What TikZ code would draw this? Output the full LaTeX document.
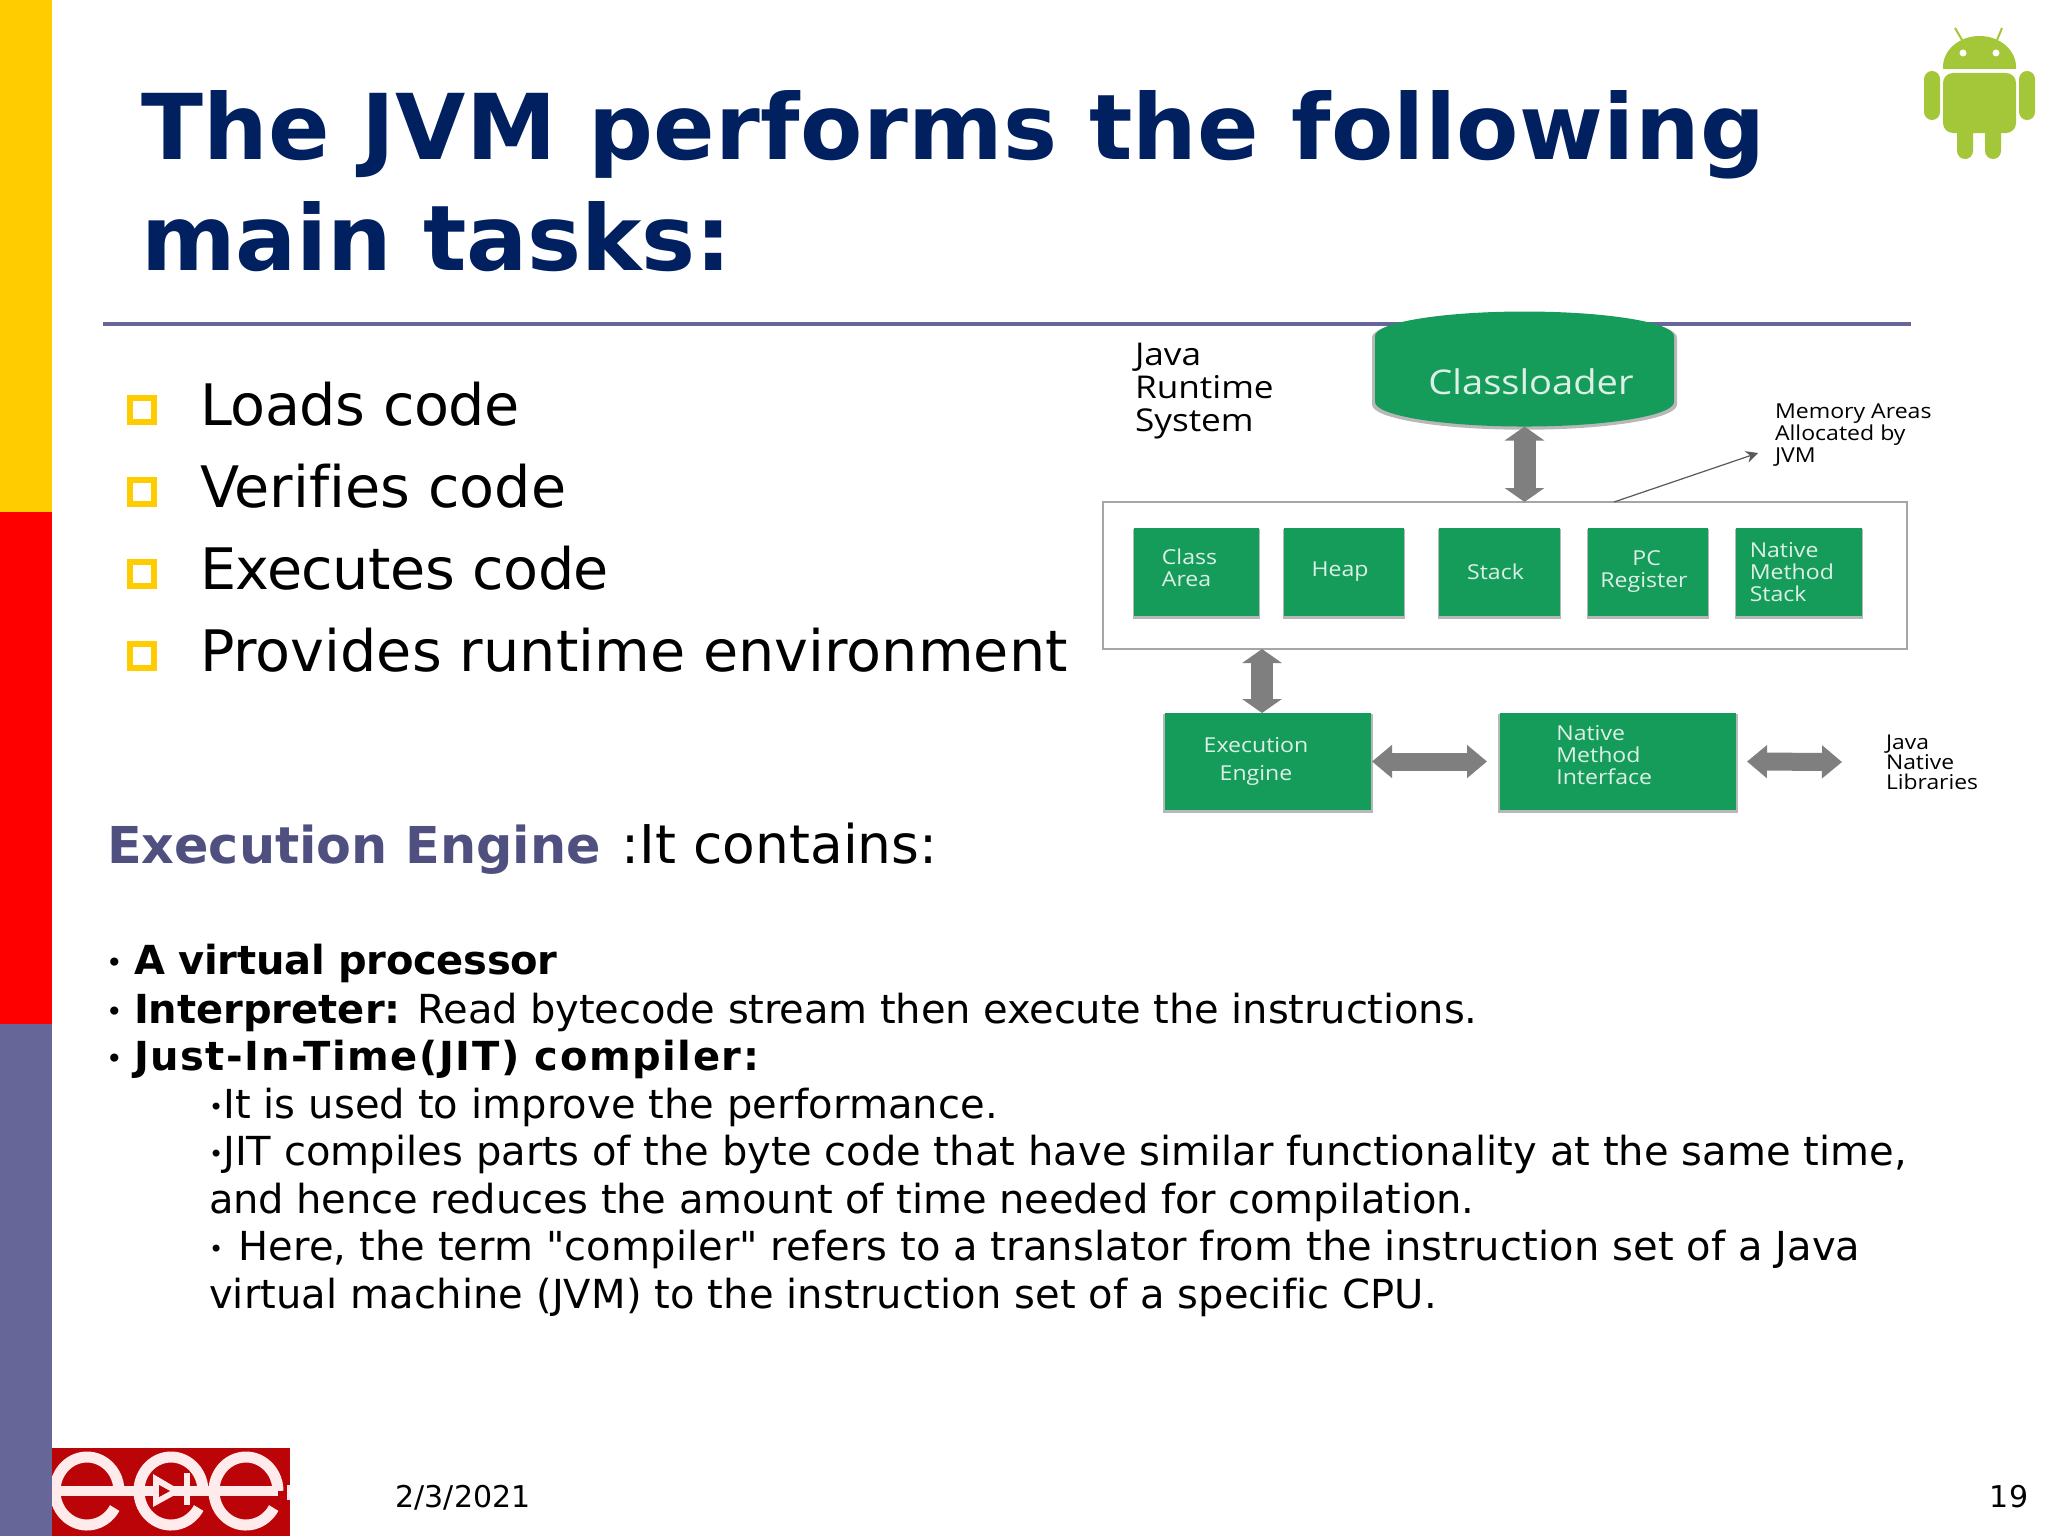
\documentclass[tikz,border=0pt]{standalone}
\usepackage{fontspec}
\setmainfont{DejaVu Sans}[Ligatures={ResetAll,NoCommon}]
\newfontfamily\quotefont{DejaVu Sans}
\newfontfamily\diagfont[FakeStretch=1.12]{Open Sans}
\usepackage{xcolor}
\usetikzlibrary{
    arrows.meta,
    shapes.geometric,
    positioning,
    shadows,
    calc
}
\definecolor{navytitle}{HTML}{002060}
\definecolor{slateblue}{HTML}{666699}
\definecolor{headblue}{HTML}{4F4F80}
\definecolor{baryellow}{HTML}{FFCC00}
\definecolor{jvmgreen}{HTML}{169C5A}
\definecolor{arrowgray}{HTML}{7F7F7F}
\definecolor{droidgreen}{HTML}{A4C639}
\definecolor{logored}{HTML}{BB0408}
\newcommand{\smalldot}{\raisebox{1.5pt}{\fontsize{12}{12}\selectfont •}}
\newcommand{\listdot}{\raisebox{1pt}{\fontsize{14}{14}\selectfont •}}
\newcommand{\trk}[1]{\addfontfeature{LetterSpace=#1}}
\newcommand{\strq}{{\quotefont"}}
\tikzset{
    slidetext/.style={anchor=base west, inner sep=0pt, outer sep=0pt},
    titletext/.style={slidetext, text=navytitle, font=\bfseries\fontsize{45.4}{50}\selectfont},
    itemtext/.style={slidetext, font=\fontsize{28.6}{34}\selectfont},
    bodytext/.style={slidetext, font=\fontsize{20}{24}\selectfont},
    footertext/.style={anchor=base, inner sep=0pt, outer sep=0pt, font=\fontsize{15}{18}\selectfont},
    bulletbox/.style={draw=baryellow, line width=3pt, fill=white, outer sep=0pt, inner sep=0pt, minimum size=12pt},
    softshadow/.style={drop shadow={shadow xshift=0pt, shadow yshift=-1pt, shadow scale=1.02, opacity=.28, fill=black}},
    membox/.style={fill=jvmgreen, text=white!85!jvmgreen, inner sep=0pt, outer sep=0pt,
        minimum height=44pt, softshadow, align=left, font=\diagfont\fontsize{10.3}{11}\selectfont},
    enginebox/.style={membox, minimum height=48.5pt},
    labeltext/.style={align=left, inner sep=0pt, outer sep=0pt, anchor=west},
    vbigarrow/.style={draw=arrowgray, line width=11pt, {Triangle[width=19.5pt,length=7pt]}-{Triangle[width=19.5pt,length=7pt]}},
    hbigarrow/.style={draw=arrowgray, line width=9pt, {Triangle[width=16pt,length=10pt]}-{Triangle[width=16pt,length=10pt]}}
}

\begin{document}
\begin{tikzpicture}[x=.5pt, y=-.5pt]
    \useasboundingbox (0,0) rectangle (2048,1536);
    \fill[white] (0,0) rectangle (2048,1536);
    \fill[baryellow] (0,0) rectangle (52,512);
    \fill[red] (0,512) rectangle (52,1024);
    \fill[slateblue] (0,1024) rectangle (52,1536);
    \draw[slateblue, line width=2pt] (103,324) -- (1911,324);

    \node (title1) at (141,159) [titletext] {\trk{.34}The JVM performs the following};
    \node (title2) at (141,270) [titletext] {\trk{-.26}main tasks:};

    \foreach \i/\y/\itemtxt in {1/425/{\trk{-.7}Loads code}, 2/507/Verifies code, 3/589/{\trk{-.9}Executes code}, 4/671/Provides runtime environment}{
        \node (mark\i) at (142,\y-15.5) [bulletbox] {};
        \node (item\i) at (200,\y) [itemtext] {\itemtxt};
    }

    \node (enginehead) at (107,863) [itemtext, font=\fontsize{26.7}{30}\selectfont] {{\fontsize{25.4}{30}\selectfont\bfseries\textcolor{headblue}{Execution Engine}}\hspace{2pt} :It contains:};

    \node (dot1) at (106,974) [bodytext] {\listdot};
    \node (body1) at (134,974) [bodytext] {\textbf{\trk{-.7}A virtual processor}};
    \node (dot2) at (106,1023) [bodytext] {\listdot};
    \node (body2) at (134,1023) [bodytext] {\textbf{Interpreter:} \trk{-.3}Read bytecode stream then execute the instructions.};
    \node (dot3) at (106,1070) [bodytext] {\listdot};
    \node (body3) at (134,1070) [bodytext] {\textbf{\trk{3.9}Just-In-Time(JIT) compiler:}};
    \node (body4) at (209,1118) [bodytext] {\smalldot \trk{.34}It is used to improve the performance.};
    \node (body5) at (209,1165) [bodytext] {\smalldot \trk{.2}JIT compiles parts of the byte code that have similar functionality at the same time,};
    \node (body6) at (209,1213) [bodytext] {\trk{-.27}and hence reduces the amount of time needed for compilation.};
    \node (body7) at (209,1260) [bodytext] {\smalldot\hspace{7.7pt}\trk{.3}Here, the term \strq compiler\strq\ refers to a translator from the instruction set of a Java};
    \node (body8) at (209,1308) [bodytext] {\trk{.36}virtual machine (JVM) to the instruction set of a specific CPU.};

    \node (date) at (463,1507) [footertext] {2/3/2021};
    \node (page) at (2009,1507) [footertext] {19};

    \node (ram) at (1505,575.5) [draw=black!35, line width=1pt, fill=white, minimum width=401.75pt, minimum height=73.5pt, outer sep=0pt] {};
    \node (loader) at (1524.5,381.5) [cylinder, shape border rotate=90, shape aspect=.225, fill=jvmgreen, text=white!85!jvmgreen,
        minimum width=149.5pt, minimum height=57.5pt, inner sep=0pt, outer sep=0pt, font=\diagfont\fontsize{17}{20}\selectfont,
        softshadow] {\hspace*{6.5pt}Classloader};

    \node (runtime) at (1135,391) [labeltext, font=\diagfont\fontsize{15.7}{16.7}\selectfont] {Java\\Runtime\\System};
    \node (memlabel) at (1775,435) [labeltext, font=\diagfont\fontsize{10.3}{11}\selectfont] {Memory Areas\\Allocated by\\JVM};
    \node (natlibs) at (1886,762) [labeltext, font=\diagfont\fontsize{10.2}{10}\selectfont] {Java\\Native\\Libraries};

    \foreach \name/\cx/\wid/\txt in {
        classarea/1196.5/62.5/{Class\hspace*{7pt}\\Area\\[-7pt]\mbox{}},
        heap/1344/60/{Heap\hspace*{4pt}},
        stack/1499.5/60.5/{Stack\hspace*{4pt}},
        pcreg/1648/60/{\hspace*{16pt}PC\\Register\hspace*{4pt}},
        natstack/1799/63/{Native\hspace*{14.9pt}\\Method\\Stack}}{
        \node (\name) at (\cx,572) [membox, minimum width=\wid pt] {\txt};
    }

    \node (engine) at (1268,761.5) [enginebox, minimum width=103pt, align=center] {Execution\hspace*{12pt}\\[3pt]Engine\hspace*{12pt}};
    \node (natiface) at (1618,761.5) [enginebox, minimum width=118pt] {Native\hspace*{27.3pt}\\Method\\Interface\\[-4.5pt]\mbox{}};

    \coordinate (memfoot) at ([xshift=54.5pt]ram.north);
    \coordinate (memtip) at (1758,453);
    \draw[-{Stealth[length=6pt,width=6pt]}, black!65, line width=.6pt] (memfoot) -- (memtip);

    \draw[vbigarrow] (loader.south) -- (loader.south |- ram.north);
    \draw[vbigarrow] ([xshift=-3pt]engine.north) -- ([xshift=-3pt]engine.north |- ram.south);
    \draw[hbigarrow] ([xshift=.5pt]engine.east) -- ([xshift=-6.5pt]natiface.west);
    \draw[hbigarrow] ([xshift=5.5pt]natiface.east) -- ([xshift=-22pt]natlibs.west);

    \fill[logored] (52,1448) rectangle (290,1536);
    \begin{scope}
        \clip (52,1448) rectangle (290,1536);
        \foreach \cx in {87,171,246}{
            \draw[white!92!red, line width=5.5pt] (\cx+27.7,1508) arc[start angle=30, end angle=360, x radius=32, y radius=34];
        }
        \draw[white!92!red, line width=5pt] (52,1491) -- (278,1491);
        \fill[white!92!red] (287,1485) rectangle (290,1500);
        \fill[white!92!red] (153,1474) -- (153,1507) -- (182,1491) -- cycle;
        \fill[logored] (159,1485) -- (159,1497) -- (170,1491) -- cycle;
        \draw[white!92!red, line width=3pt] (187,1473) -- (187,1505);
    \end{scope}

    \fill[droidgreen] (1943,69) -- (1943,67) arc[start angle=180, end angle=360, x radius=36.5, y radius=31] -- (2016,69) -- cycle;
    \fill[droidgreen, rounded corners=5pt] (1943,73) rectangle (2016,133);
    \fill[droidgreen, rounded corners=4pt] (1924,71) rectangle (1940,120);
    \fill[droidgreen, rounded corners=4pt] (2019,71) rectangle (2035,120);
    \fill[droidgreen, rounded corners=4pt] (1957,115) rectangle (1973,159);
    \fill[droidgreen, rounded corners=4pt] (1985,115) rectangle (2001,159);
    \draw[droidgreen, line width=1pt] (1962,40) -- (1955,28);
    \draw[droidgreen, line width=1pt] (1997,40) -- (2002,28);
    \fill[white] (1963,53) circle[radius=3.5];
    \fill[white] (1996,53) circle[radius=3.5];
\end{tikzpicture}
\end{document}
